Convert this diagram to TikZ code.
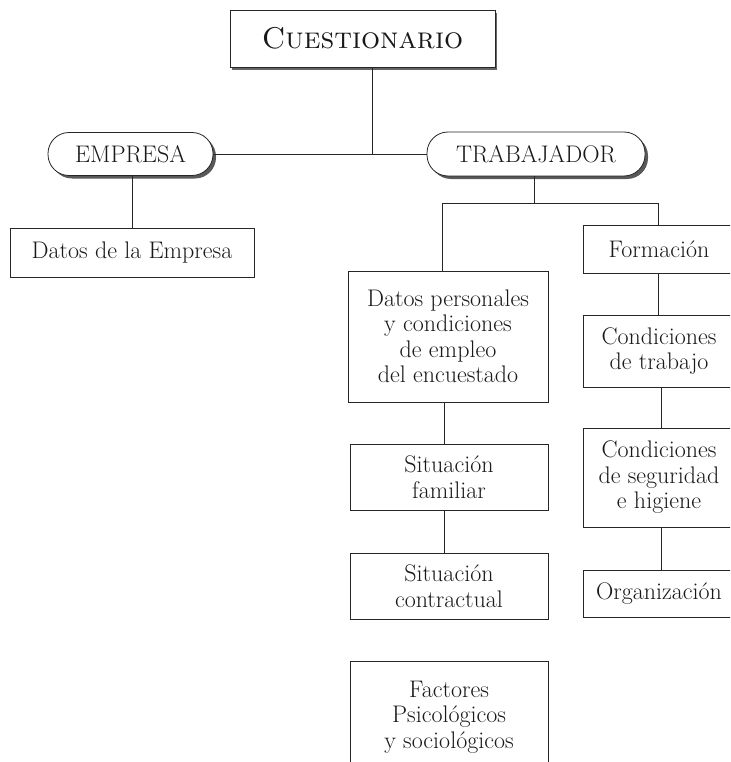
\documentclass[tikz,border=0pt]{standalone}
\usetikzlibrary{shadows}
\begin{document}
\begin{tikzpicture}[x=1pt,y=-1pt,
  ln/.style={draw=black!85, line width=0.8pt},
  box/.style={ln, fill=white, align=center, inner sep=0pt, text=black!90,
    font={\fontsize{24}{25.5}\selectfont}},
  oval/.style={box, rounded corners=21pt, font={\fontsize{24}{26}\selectfont},
    drop shadow={shadow xshift=3pt, shadow yshift=-3pt, fill=black!65, opacity=1}},
  topbox/.style={box, font={\fontsize{30}{32}\selectfont},
    drop shadow={shadow xshift=2pt, shadow yshift=-3pt, fill=black!60, opacity=1}}
]
\useasboundingbox (0,0) rectangle (730,762);
\clip (0,0) rectangle (730,762);
\fill[white] (0,0) rectangle (730,762);

\node[topbox, minimum width=265pt, minimum height=57pt] (cuest) at (362.5,38.5) {\textsc{Cuestionario}};
\node[oval, minimum width=165pt, minimum height=43pt] (emp) at (130.5,154) {EMPRESA};
\node[oval, minimum width=218pt, minimum height=44pt] (trab) at (536,154) {TRABAJADOR};

\node[box, minimum width=244pt, minimum height=49pt] (datemp) at (132,252.5) {Datos de la Empresa};

\node[box, minimum width=200pt, minimum height=131pt] (datper) at (448,336.5) {Datos personales\\y condiciones\\de empleo\\del encuestado};
\node[box, minimum width=198pt, minimum height=66pt] (sitf) at (449,477) {Situación\\familiar};
\node[box, minimum width=198pt, minimum height=66pt] (sitc) at (449,586) {Situación\\contractual};
\node[box, minimum width=198pt, minimum height=112pt] (fact) at (449,717) {Factores\\Psicológicos\\y sociológicos};

\node[box, minimum width=152pt, minimum height=48pt] (form) at (659,249) {Formación};
\node[box, minimum width=152pt, minimum height=72pt] (cond) at (659,351) {Condiciones\\de trabajo};
\node[box, minimum width=152pt, minimum height=99pt] (seg) at (659,477.5) {Condiciones\\de seguridad\\e higiene};
\node[box, minimum width=152pt, minimum height=47pt] (org) at (659,593.5) {Organización};

\coordinate (j1) at (372,154);
\coordinate (j2) at (534,203);
\coordinate (jl) at (442,203);
\coordinate (jr) at (658,203);

\draw[ln] (cuest.south -| j1) -- (j1);
\draw[ln] (emp.east) -- (trab.west);
\draw[ln] (emp.south -| datemp.north) -- (datemp.north);
\draw[ln] (trab.south -| j2) -- (j2);
\draw[ln] (datper.north -| jl) -- (jl) -- (jr) -- (form.north -| jr);
\draw[ln] (datper.south -| 444,0) -- (sitf.north -| 444,0);
\draw[ln] (sitf.south -| 444,0) -- (sitc.north -| 444,0);
\draw[ln] (form.south -| 658,0) -- (cond.north -| 658,0);
\draw[ln] (cond.south -| 661,0) -- (seg.north -| 661,0);
\draw[ln] (seg.south -| 661,0) -- (org.north -| 661,0);
\end{tikzpicture}
\end{document}
